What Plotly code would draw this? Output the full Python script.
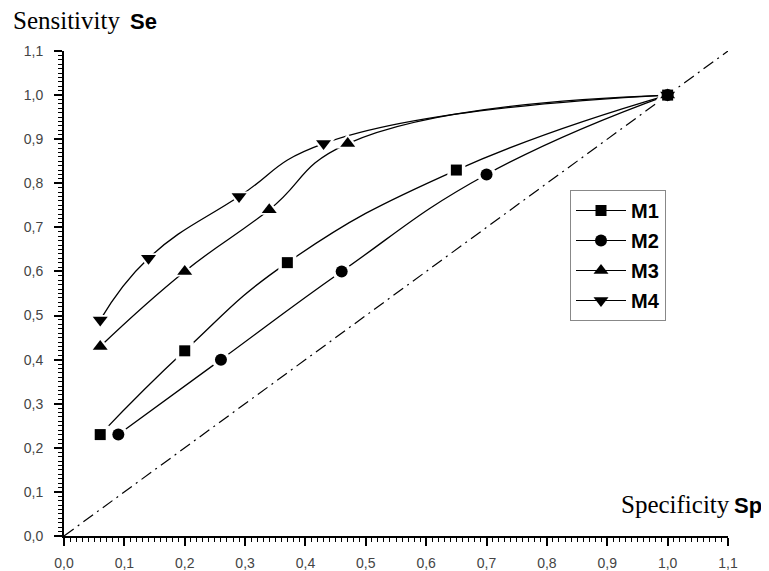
import plotly.graph_objects as go

# Data (Specificity, Sensitivity)
m1_sp = [0.06, 0.20, 0.37, 0.65, 1.00]
m1_se = [0.23, 0.42, 0.62, 0.83, 1.00]
m2_sp = [0.09, 0.26, 0.46, 0.70, 1.00]
m2_se = [0.23, 0.40, 0.60, 0.82, 1.00]
m3_sp = [0.06, 0.20, 0.34, 0.47, 1.00]
m3_se = [0.43, 0.60, 0.74, 0.89, 1.00]
m4_sp = [0.06, 0.14, 0.29, 0.43, 1.00]
m4_se = [0.49, 0.63, 0.77, 0.89, 1.00]
names = ["M1", "M2", "M3", "M4"]
diag = [0.0, 1.1]

series = [(m1_sp, m1_se), (m2_sp, m2_se), (m3_sp, m3_se), (m4_sp, m4_se)]
symbols = ["square", "circle", "triangle-up", "triangle-down"]
sizes = [11, 12, 13, 13]

# page body has an 8px margin; compensate so the plot lands where the reference has it
OFF = 8
W, H = 769 - OFF, 571 - OFF
L, T = 64 - OFF, 51 - OFF
PW, PH = 664, 485
R = W - L - PW
B = H - T - PH

def px_x(x):
    return (x - 64) / PW

def px_y(y):
    return (536 - y) / PH

fig = go.Figure()

# reference diagonal
fig.add_trace(go.Scatter(x=diag, y=diag, mode="lines", showlegend=False,
                         line=dict(color="black", width=1.2, dash="12px,5px,2px,5px"),
                         hoverinfo="skip"))

# curves
for (xs, ys) in series:
    fig.add_trace(go.Scatter(x=xs, y=ys, mode="lines", showlegend=False,
                             line=dict(color="black", width=1.3, shape="spline", smoothing=1.3)))
# white halos to create gaps around markers
for (xs, ys), sym, s in zip(series, symbols, sizes):
    fig.add_trace(go.Scatter(x=xs, y=ys, mode="markers", showlegend=False,
                             marker=dict(symbol=sym, size=s + 7, color="white",
                                         line=dict(width=0))))
# markers
for (xs, ys), sym, s in zip(series, symbols, sizes):
    fig.add_trace(go.Scatter(x=xs, y=ys, mode="markers", showlegend=False,
                             marker=dict(symbol=sym, size=s, color="black",
                                         line=dict(width=0))))
# legend entries
for nm, sym, s in zip(names, symbols, sizes):
    fig.add_trace(go.Scatter(x=[None], y=[None], mode="lines+markers", name=nm,
                             legendgroup=nm,
                             line=dict(color="black", width=1),
                             marker=dict(symbol=sym, size=s, color="black")))

axis_common = dict(
    range=[0, 1.1], dtick=0.1, tick0=0, tickformat=".1f",
    showgrid=False, zeroline=False, automargin=False,
    showline=True, linecolor="black", linewidth=2,
    ticks="outside", ticklen=8, tickwidth=1.5, tickcolor="black",
    tickfont=dict(family="Liberation Sans, Arial", size=14, color="#444"),
    minor=dict(dtick=0.01, ticks="outside", ticklen=4, tickwidth=1, tickcolor="black", showgrid=False),
)

fig.update_layout(
    width=W, height=H,
    margin=dict(l=L, r=R, t=T, b=B, autoexpand=False),
    plot_bgcolor="white", paper_bgcolor="white",
    separators=",.",
    xaxis=dict(axis_common, ticklabelstandoff=5),
    yaxis=dict(axis_common, ticklabelstandoff=8),
    legend=dict(x=px_x(570), y=px_y(190), xanchor="left", yanchor="top",
                bgcolor="white", bordercolor="#888", borderwidth=1,
                font=dict(family="Liberation Sans, Arial", size=20, color="black", weight="bold"),
                tracegroupgap=1, itemwidth=50),
    annotations=[
        dict(text="Sensitivity", xref="paper", yref="paper",
             x=px_x(11), y=px_y(20), xanchor="left", yanchor="middle",
             showarrow=False, font=dict(family="Liberation Serif, Times New Roman", size=25, color="black")),
        dict(text="<b>Se</b>", xref="paper", yref="paper",
             x=px_x(128), y=px_y(22), xanchor="left", yanchor="middle",
             showarrow=False, font=dict(family="Liberation Sans, Arial", size=22, color="black")),
        dict(text="Specificity", xref="paper", yref="paper",
             x=px_x(619), y=px_y(504), xanchor="left", yanchor="middle",
             showarrow=False, font=dict(family="Liberation Serif, Times New Roman", size=25, color="black")),
        dict(text="<b>Sp</b>", xref="paper", yref="paper",
             x=px_x(732), y=px_y(505), xanchor="left", yanchor="middle",
             showarrow=False, font=dict(family="Liberation Sans, Arial", size=22, color="black")),
    ],
)

fig.write_html("out.html")
